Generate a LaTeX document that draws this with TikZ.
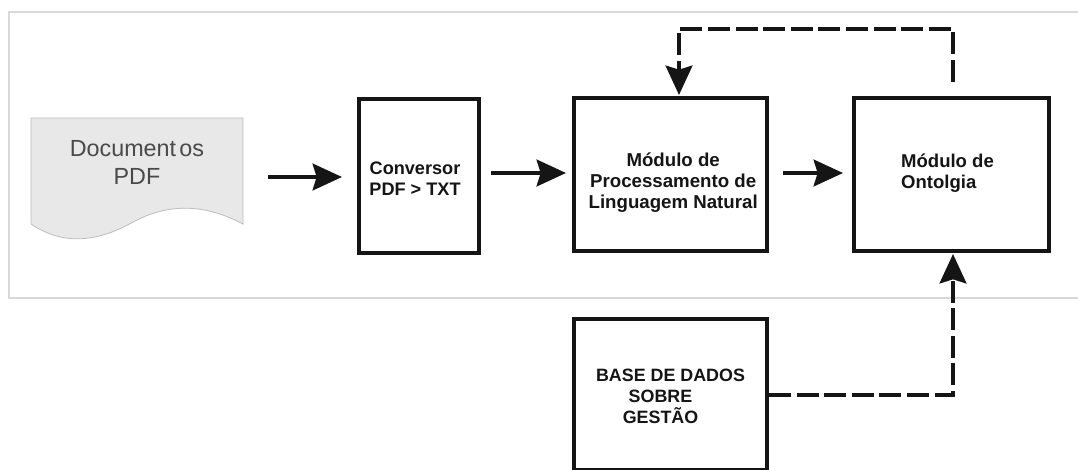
\documentclass[tikz,border=0pt]{standalone}
\usepackage{fontspec}
\setmainfont{Liberation Sans}
\usetikzlibrary{arrows.meta}
\definecolor{ink}{HTML}{151515}
\definecolor{framegray}{HTML}{D8D8D8}
\definecolor{docfill}{HTML}{E8E8E8}
\definecolor{docline}{HTML}{BDBDBD}
\definecolor{doctext}{HTML}{4A4A4A}
\tikzset{
  x=0.75pt,y=-0.75pt,
  blockbox/.style={draw=ink,line width=3pt,fill=white,inner sep=0pt,align=center,text=ink,anchor=north west},
  blockfont/.style={font=\bfseries\fontsize{#1}{15.75}\selectfont},
  flowarrow/.style={draw=ink,line width=3pt,-{Triangle[length=22pt,width=20pt,inset=3pt]}},
  backarrow/.style={draw=ink,line width=3pt,dash pattern=on 16.5pt off 4.2pt,-{Triangle[length=22pt,width=20pt,inset=3pt]}},
}
\begin{document}
\begin{tikzpicture}
\useasboundingbox (0,0) rectangle (1078,469);
\clip (0,0) rectangle (1078,469);
\draw[framegray,line width=0.9pt] (1078,12) -- (9,12) -- (9,298) -- (1078,298);
\draw[fill=docfill,draw=docline,line width=0.6pt] (31,118) -- (243,118) -- (243,224)
  .. controls (205,204) and (170,203) .. (135,221)
  .. controls (100,241) and (65,247) .. (31,224) -- cycle;
\node[inner sep=0pt,outer sep=0pt,minimum width=159pt,align=center,text=doctext,font=\fontsize{17.5}{21}\selectfont] (doc) at (137,162) {Document\kern2.5pt os\\PDF};
\node[blockbox,blockfont=13.6,minimum width=90pt,minimum height=115.5pt] (conv) at (357,97) {\mbox{}\\[-2.95pt]\mbox{Conversor\kern6pt}\\\mbox{PDF > TXT\kern6pt}};
\node[blockbox,blockfont=14,minimum width=144.75pt,minimum height=114.75pt] (pln) at (572,96) {\mbox{}\\[7pt]\mbox{\kern4pt Módulo de}\\\mbox{\kern4pt Processamento de}\\\mbox{\kern4pt Linguagem Natural}};
\node[blockbox,blockfont=13.9,align=left,minimum width=146.25pt,minimum height=114.75pt] (ont) at (852,96) {\mbox{Módulo de\kern6pt}\\Ontolgia\\[-11pt]\mbox{}};
\node[blockbox,blockfont=13.4,minimum width=144.75pt,minimum height=113.25pt] (base) at (572,317) {\mbox{}\\[-3.75pt]BASE DE DADOS\\\mbox{SOBRE\kern15pt}\\\mbox{GESTÃO\kern15pt}};
\draw[flowarrow] ([shift={(25,15)}]doc.east) -- ([shift={(-15,1)}]conv.west);
\draw[flowarrow] ([shift={(10,-3)}]conv.east) -- ([shift={(-6,-1.5)}]pln.west);
\draw[flowarrow] ([shift={(14,-1.5)}]pln.east) -- ([shift={(-9,-1.5)}]ont.west);
\coordinate (t2) at (953,29);
\coordinate (t3) at (679,29);
\draw[backarrow] ([shift={(1.5,-14)}]ont.north) -- (t2) -- (t3) -- ([shift={(8.5,-1)}]pln.north);
\coordinate (b2) at (953,395);
\draw[backarrow] (base.east) -- (base.east -| b2) -- ([shift={(1.5,1)}]ont.south);
\end{tikzpicture}
\end{document}
